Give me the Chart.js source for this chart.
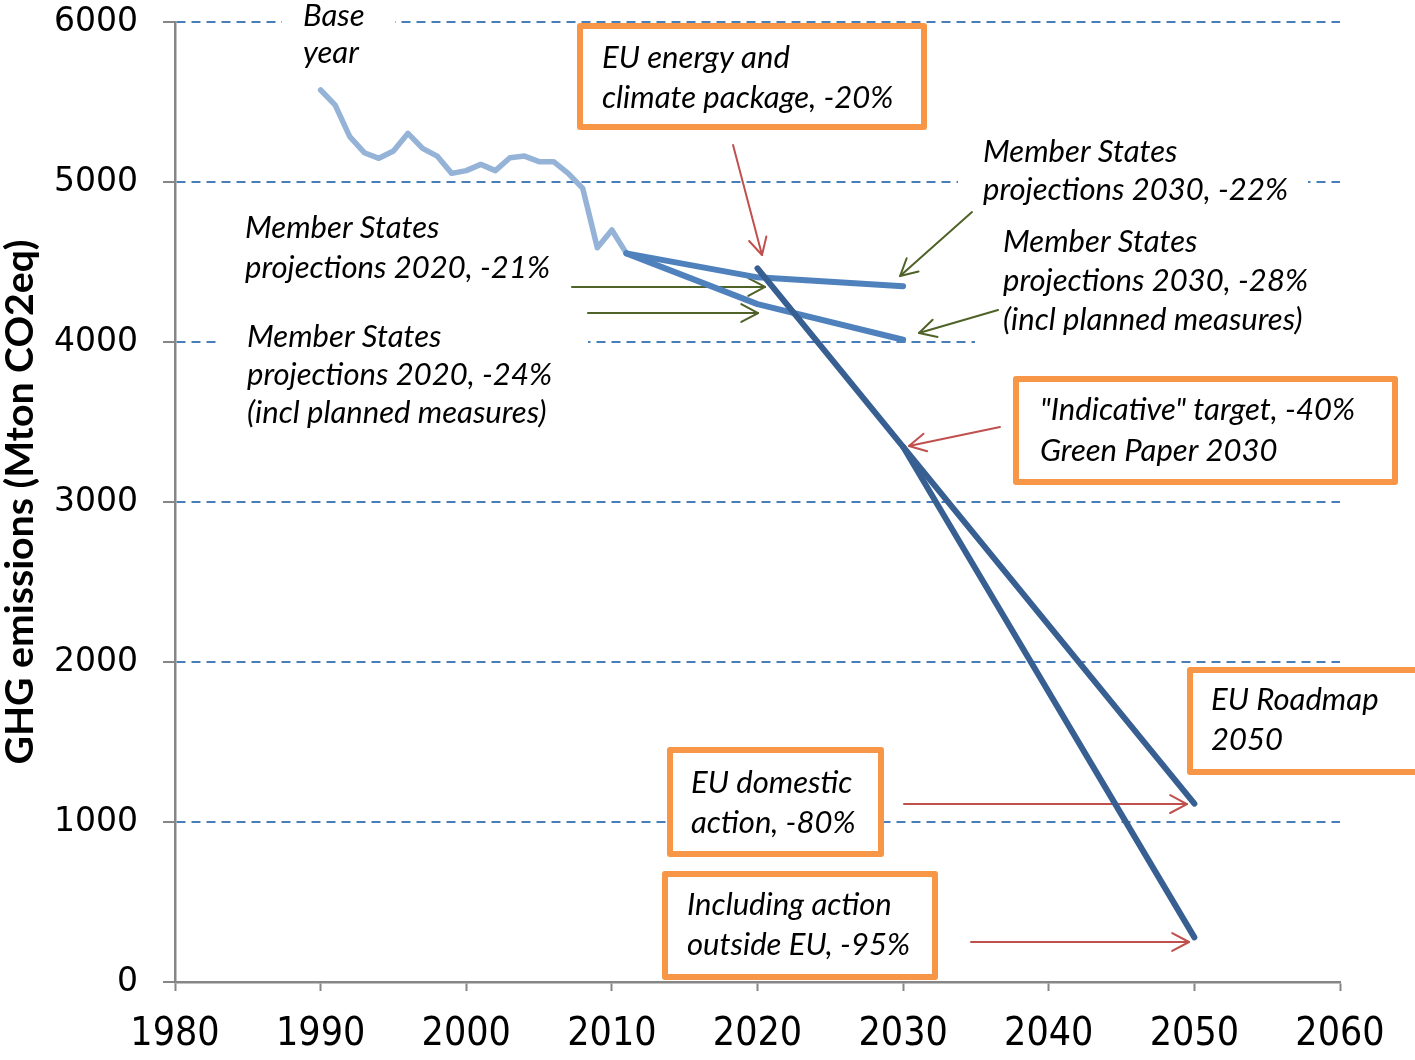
<!DOCTYPE html>
<html><head><meta charset="utf-8">
<script src="https://cdn.jsdelivr.net/npm/chart.js@4/dist/chart.umd.min.js"></script>
<style>html,body{margin:0;padding:0;background:#fff}#wrap{width:1415px;height:1060px}</style>
</head><body><div id="wrap"><canvas id="c" width="1415" height="1060"></canvas></div>
<script>
// ---- data ----
const xTicks = [1980, 1990, 2000, 2010, 2020, 2030, 2040, 2050, 2060];
const yTicks = [0, 1000, 2000, 3000, 4000, 5000, 6000];
const histYears = [1990,1991,1992,1993,1994,1995,1996,1997,1998,1999,2000,2001,2002,2003,2004,2005,2006,2007,2008,2009,2010,2011];
const histValues = [5575,5481,5283,5183,5148,5194,5304,5210,5162,5054,5071,5110,5071,5152,5162,5127,5127,5054,4960,4589,4700,4554];
const projYears = [2011, 2020, 2030];
const msExisting = [4554, 4404, 4349];
const msPlanned = [4554, 4237, 4014];
const roadmapYears = [2020, 2030, 2050];
const roadmapDomestic = [4460, 3345, 1115];
const outsideYears = [2030, 2050];
const roadmapOutside = [3345, 279];
const yTitle = 'GHG emissions (Mton CO2eq)';

const pts = (xs, ys) => xs.map((x, i) => ({x, y: ys[i]}));

// ---- annotations (layout) ----
const notes = [
  {lines:['Base','year'], x:303, y:26, lh:37, bg:[282,0,113,75]},
  {lines:['EU energy and','climate package, -20%'], x:602, y:68, lh:40, box:[580,26,344,101]},
  {lines:['Member States','projections 2030, -22%'], x:983, y:162, lh:38, bg:[958,135,350,75]},
  {lines:['Member States','projections 2030, -28%','(incl planned measures)'], x:1003, y:252, lh:39, bg:[975,225,370,120]},
  {lines:['Member States','projections 2020, -21%'], x:245, y:238, lh:40},
  {lines:['Member States','projections 2020, -24%','(incl planned measures)'], x:247, y:347, lh:38, bg:[218,315,370,120]},
  {lines:['"Indicative" target, -40%','Green Paper 2030'], x:1040, y:420, lh:41, box:[1016,379,379,103]},
  {lines:['EU Roadmap','2050'], x:1211, y:710, lh:40, box:[1190,670,240,102]},
  {lines:['EU domestic','action, -80%'], x:691, y:793, lh:40, box:[670,750,211,104]},
  {lines:['Including action','outside EU, -95%'], x:687, y:915, lh:40, box:[665,874,270,103]}
];
// arrows in data coordinates [year1, value1, year2, value2, colour]
const RED = '#C0504D', GREEN = '#4F6228';
const arrows = [
  [2018.32, 5231, 2020.31, 4544, RED],
  [2034.73, 4812, 2029.79, 4412, GREEN],
  [2036.52, 4200, 2031.09, 4056, GREEN],
  [2007.26, 4344, 2020.52, 4344, GREEN],
  [2008.36, 4181, 2020.04, 4181, GREEN],
  [2036.65, 3469, 2030.40, 3350, RED],
  [2030.06, 1112, 2049.49, 1112, RED],
  [2034.66, 250, 2049.63, 250, RED]
];

const NOTE_FONT = 'italic 31px Lato';
function drawArrow(ctx, x1, y1, x2, y2, color) {
  const a = Math.atan2(y2 - y1, x2 - x1), L = 19, t = 28 * Math.PI / 180;
  ctx.save();
  ctx.strokeStyle = color; ctx.lineWidth = 2; ctx.lineCap = 'round'; ctx.lineJoin = 'round';
  ctx.beginPath(); ctx.moveTo(x1, y1); ctx.lineTo(x2, y2); ctx.stroke();
  ctx.beginPath();
  ctx.moveTo(x2 - L * Math.cos(a - t), y2 - L * Math.sin(a - t));
  ctx.lineTo(x2, y2);
  ctx.lineTo(x2 - L * Math.cos(a + t), y2 - L * Math.sin(a + t));
  ctx.stroke();
  ctx.restore();
}
const annotPlugin = {
  id: 'annot',
  beforeDatasetsDraw(chart) {
    const ctx = chart.ctx;
    ctx.save();
    ctx.font = NOTE_FONT;
    const sx = 305 / ctx.measureText('projections 2020, -21%').width;
    notes.forEach(n => {
      if (n.bg) { ctx.fillStyle = '#fff'; ctx.fillRect(...n.bg); }
      if (n.box) {
        ctx.fillStyle = '#fff'; ctx.fillRect(...n.box);
        ctx.strokeStyle = '#F79646'; ctx.lineWidth = 6; ctx.lineJoin = 'round';
        ctx.strokeRect(...n.box);
      }
      ctx.fillStyle = '#000'; ctx.font = NOTE_FONT; ctx.textAlign = 'left'; ctx.textBaseline = 'alphabetic';
      n.lines.forEach((s, i) => {
        ctx.save();
        ctx.translate(n.x, n.y + i * n.lh);
        ctx.scale(sx, 1);
        ctx.fillText(s, 0, 0);
        ctx.restore();
      });
    });
    const xs = chart.scales.x, ys = chart.scales.y;
    arrows.forEach(a => drawArrow(ctx, xs.getPixelForValue(a[0]), ys.getPixelForValue(a[1]),
      xs.getPixelForValue(a[2]), ys.getPixelForValue(a[3]), a[4]));
    ctx.restore();
  },
  afterDraw(chart) {
    const ctx = chart.ctx, area = chart.chartArea;
    ctx.save();
    ctx.font = 'bold 39px Lato';
    const w = ctx.measureText(yTitle).width;
    ctx.translate(33, (area.top + area.bottom) / 2);
    ctx.rotate(-Math.PI / 2);
    ctx.scale(525 / w, 1);
    ctx.fillStyle = '#000'; ctx.textAlign = 'center'; ctx.textBaseline = 'alphabetic';
    ctx.fillText(yTitle, 0, 0);
    ctx.restore();
  }
};

const noPad = s => { s.paddingTop = 0; s.paddingBottom = 0; s.paddingLeft = 0; s.paddingRight = 0; };
const lineBase = {pointRadius: 0, borderCapStyle: 'round', borderJoinStyle: 'round', tension: 0, fill: false};
new Chart(document.getElementById('c'), {
  type: 'line',
  data: {
    datasets: [
      {...lineBase, label: 'EU Roadmap domestic', data: pts(roadmapYears, roadmapDomestic), borderColor: '#385F92', borderWidth: 6, order: 1},
      {...lineBase, label: 'EU Roadmap incl. outside', data: pts(outsideYears, roadmapOutside), borderColor: '#385F92', borderWidth: 6, order: 1},
      {...lineBase, label: 'MS projections existing', data: pts(projYears, msExisting), borderColor: '#4F81BD', borderWidth: 6, order: 2},
      {...lineBase, label: 'MS projections planned', data: pts(projYears, msPlanned), borderColor: '#4F81BD', borderWidth: 6, order: 2},
      {...lineBase, label: 'Historical', data: pts(histYears, histValues), borderColor: '#95B3D7', borderWidth: 5.5, order: 3}
    ]
  },
  options: {
    responsive: false, animation: false, devicePixelRatio: 1,
    layout: {padding: {top: 22, right: 75, left: 0, bottom: 0}},
    plugins: {legend: {display: false}, tooltip: {enabled: false}},
    scales: {
      x: {
        type: 'linear', min: xTicks[0], max: xTicks[xTicks.length - 1],
        afterBuildTicks: s => { s.ticks = xTicks.map(v => ({value: v})); },
        afterFit: s => { s.height = 78; noPad(s); },
        grid: {drawOnChartArea: false, drawTicks: true, tickLength: 9, tickColor: '#868686', tickWidth: 2},
        border: {color: '#868686', width: 2.5},
        ticks: {font: {family: '"DejaVu Sans Condensed", "DejaVu Sans"', size: 39}, color: '#000', padding: 20,
                maxRotation: 0, autoSkip: false, callback: v => String(v)}
      },
      y: {
        type: 'linear', min: yTicks[0], max: yTicks[yTicks.length - 1],
        afterBuildTicks: s => { s.ticks = yTicks.map(v => ({value: v})); },
        afterFit: s => { s.width = 175; noPad(s); },
        grid: {color: c => (c.tick && c.tick.value === 0) ? 'rgba(0,0,0,0)' : '#4A7EBB', lineWidth: 2,
               tickLength: 12, tickColor: '#868686', tickWidth: 2},
        border: {color: '#868686', width: 2.5, dash: [9, 6]},
        ticks: {font: {family: '"DejaVu Sans"', size: 33}, color: '#000', padding: 25, callback: v => String(v)}
      }
    }
  },
  plugins: [annotPlugin]
});
</script></body></html>
